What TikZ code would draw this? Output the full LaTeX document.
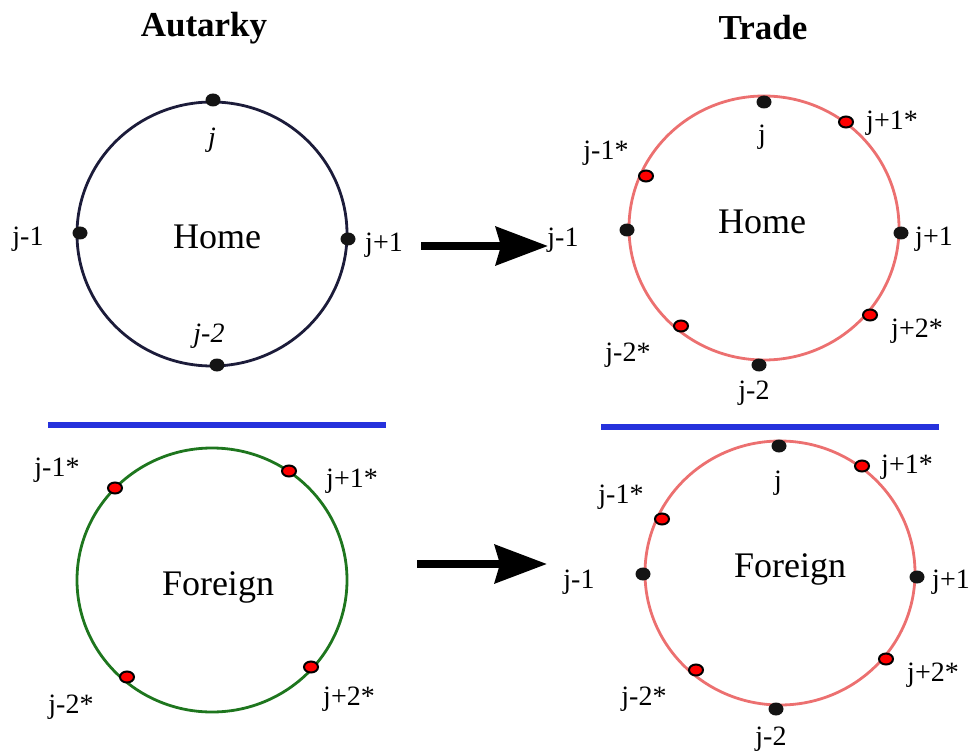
\documentclass[tikz,border=0pt]{standalone}
\usepackage{fontspec}
\setmainfont{Liberation Serif}
\usetikzlibrary{arrows.meta,shapes.geometric}
\definecolor{navyline}{RGB}{28,28,58}
\definecolor{salmon}{RGB}{236,112,112}
\definecolor{forest}{RGB}{30,118,30}
\definecolor{barblue}{RGB}{38,50,220}

\begin{document}
\begin{tikzpicture}[x=1pt, y=-1pt,
  every node/.style={inner sep=0pt},
  ring/.style={draw, ellipse, line width=2.8pt, minimum width=270pt, minimum height=264pt},
  bdot/.style={ellipse, fill=black!92, minimum width=15pt, minimum height=13pt},
  rdot/.style={ellipse, fill=red, draw=black, line width=2pt, minimum width=14pt, minimum height=11pt},
  lbl/.style={font=\fontsize{28}{32}\selectfont},
  big/.style={font=\fontsize{36}{40}\selectfont},
  ttl/.style={font=\fontsize{35}{40}\selectfont\bfseries},
  flow/.style={line width=8pt, -{Stealth[length=52pt,width=38pt,inset=5pt]}},
  bar/.style={draw=barblue, line width=6pt}]
\useasboundingbox (0,0) rectangle (971,751);

\node[ttl] (tA) at (204,28) {Autarky};
\node[ttl] (tT) at (763,28) {Trade};

% autarky, home
\node[ring, draw=navyline] (homeA) at (212,234) {};
\node[big] (homeAt) at (217,237) {Home};
\node[bdot] (hAj) at (213,100) {};
\node[bdot] (hAm1) at (80,233) {};
\node[bdot] (hAp1) at (348,239) {};
\node[bdot] (hAm2) at (217,365) {};
\node[lbl, font=\fontsize{28}{32}\selectfont\itshape] (lhAj) at (212,140) {j};
\node[lbl, font=\fontsize{28}{32}\selectfont\itshape] (lhAm2) at (209,336) {j-2};
\node[lbl] (lhAm1) at (28,239) {j-1};
\node[lbl] (lhAp1) at (384,245) {j+1};

% trade, home
\node[ring, draw=salmon] (homeT) at (764,228) {};
\node[big] (homeTt) at (762,222) {Home};
\node[bdot] (hTj) at (764,102) {};
\node[bdot] (hTm1) at (627,230) {};
\node[bdot] (hTp1) at (901,233) {};
\node[bdot] (hTm2) at (759,365) {};
\node[rdot] (hTp1s) at (846,122) {};
\node[rdot] (hTm1s) at (646,176) {};
\node[rdot] (hTm2s) at (681,326) {};
\node[rdot] (hTp2s) at (870,315) {};
\node[lbl] (lhTj) at (762,137) {j};
\node[lbl] (lhTm1) at (563,240) {j-1};
\node[lbl] (lhTp1) at (934,239) {j+1};
\node[lbl] (lhTm2) at (754,393) {j-2};
\node[lbl] (lhTp1s) at (892,123) {j+1*};
\node[lbl] (lhTm1s) at (606,153) {j-1*};
\node[lbl] (lhTm2s) at (628,355) {j-2*};
\node[lbl] (lhTp2s) at (917,331) {j+2*};

\draw[bar] (48,425) coordinate (bA0) -- (386,425) coordinate (bA1);
\draw[bar] (601,426.5) coordinate (bT0) -- (939,426.5) coordinate (bT1);

% autarky, foreign
\node[ring, draw=forest] (forA) at (212,580) {};
\node[big] (forAt) at (218,587) {Foreign};
\node[rdot] (fAm1s) at (115,488) {};
\node[rdot] (fAp1s) at (289,471) {};
\node[rdot] (fAm2s) at (127,677) {};
\node[rdot] (fAp2s) at (311,667) {};
\node[lbl] (lfAm1s) at (57,470) {j-1*};
\node[lbl] (lfAp1s) at (352,481) {j+1*};
\node[lbl] (lfAm2s) at (71,707) {j-2*};
\node[lbl] (lfAp2s) at (349,699) {j+2*};

% trade, foreign
\node[ring, draw=salmon] (forT) at (780,573) {};
\node[big] (forTt) at (790,569) {Foreign};
\node[bdot] (fTj) at (779,446) {};
\node[bdot] (fTm1) at (643,574) {};
\node[bdot] (fTp1) at (917,577) {};
\node[bdot] (fTm2) at (776,709) {};
\node[rdot] (fTp1s) at (862,466) {};
\node[rdot] (fTm1s) at (662,519) {};
\node[rdot] (fTm2s) at (696,670) {};
\node[rdot] (fTp2s) at (886,659) {};
\node[lbl] (lfTj) at (778,483) {j};
\node[lbl] (lfTm1) at (579,582) {j-1};
\node[lbl] (lfTp1) at (951,582) {j+1};
\node[lbl] (lfTm2) at (771,739) {j-2};
\node[lbl] (lfTp1s) at (907,467) {j+1*};
\node[lbl] (lfTm1s) at (621,497) {j-1*};
\node[lbl] (lfTm2s) at (644,699) {j-2*};
\node[lbl] (lfTp2s) at (933,675) {j+2*};

% arrows
\coordinate (a1s) at (421,246); \coordinate (a1e) at (548,246);
\coordinate (a2s) at (417,564); \coordinate (a2e) at (547,564);
\draw[flow] (a1s) -- (a1e);
\draw[flow] (a2s) -- (a2e);
\end{tikzpicture}
\end{document}
